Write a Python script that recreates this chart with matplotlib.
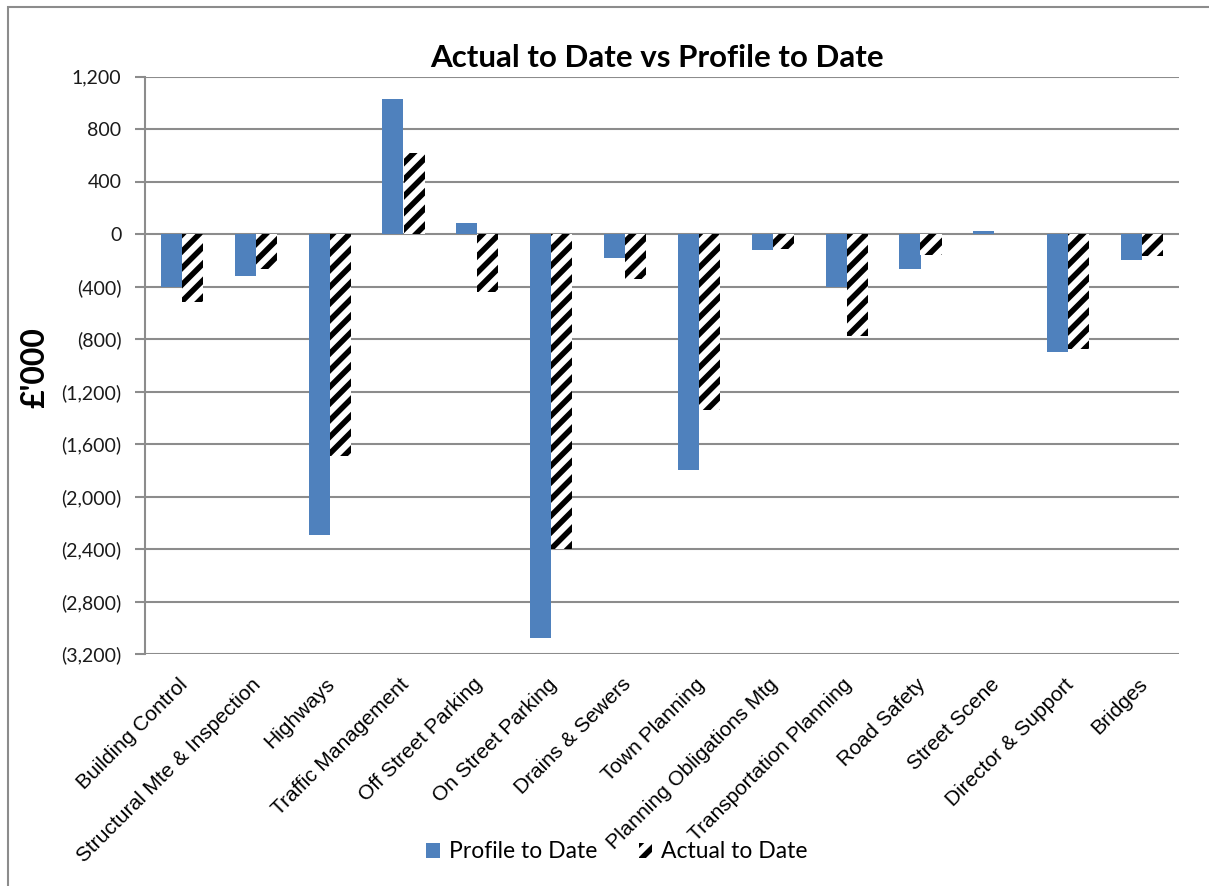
import matplotlib
matplotlib.use("Agg")
import matplotlib.pyplot as plt
import numpy as np
from matplotlib.patches import Rectangle
from matplotlib.ticker import FuncFormatter
from matplotlib.transforms import ScaledTranslation

categories = ["Building Control", "Structural Mte & Inspection", "Highways",
              "Traffic Management", "Off Street Parking", "On Street Parking",
              "Drains & Sewers", "Town Planning", "Planning Obligations Mtg",
              "Transportation Planning", "Road Safety", "Street Scene",
              "Director & Support", "Bridges"]
profile = [-405, -320, -2290, 1030, 85, -3075, -180, -1795, -120, -405, -265, 20, -900, -195]
actual = [-515, -265, -1690, 620, -440, -2400, -340, -1340, -112, -780, -160, 0, -875, -170]
yticks = [1200, 800, 400, 0, -400, -800, -1200, -1600, -2000, -2400, -2800, -3200]

CAL = ["Lato", "DejaVu Sans"]
ARI = ["Liberation Sans", "DejaVu Sans"]
GRID = "#8c8c8c"
BLUE = "#4f81bd"

plt.rcParams['hatch.linewidth'] = 4.0

fig = plt.figure(figsize=(12.09, 8.86), dpi=100)
ax = fig.add_axes([145/1209, 1-654/886, (1179-145)/1209, (654-76.5)/886])

x = np.arange(len(categories))
w = 0.2857
ax.bar(x - w/2, profile, width=w, color=BLUE, label="Profile to Date", zorder=3)
ax.bar(x + w/2, actual, width=w, facecolor="white", edgecolor="black", linewidth=0,
       hatch="//", label="Actual to Date", zorder=3)

ax.set_xlim(-0.5, len(categories) - 0.5)
ax.set_ylim(-3200, 1200)
ax.set_yticks(yticks)

def fmt(v, pos):
    v = int(round(v))
    if v < 0:
        return "({:,})".format(-v)
    return "{:,}".format(v)
ax.yaxis.set_major_formatter(FuncFormatter(fmt))
ax.yaxis.grid(True, color=GRID, linewidth=1.5, zorder=0)
ax.set_axisbelow(True)

for s in ["top", "right", "bottom"]:
    ax.spines[s].set_visible(False)
ax.spines["left"].set_color(GRID)
ax.spines["left"].set_linewidth(1.5)
ax.tick_params(axis="y", color=GRID, width=1.5, length=7, pad=10)
ax.tick_params(axis="x", length=0, pad=4)
for lab in ax.get_yticklabels():
    lab.set_family(CAL)
    lab.set_fontsize(14)
    lab.set_color("#1a1a1a")

ax.set_xticks(x)
ax.set_xticklabels(categories, rotation=45, ha="right", rotation_mode="anchor",
                   family=ARI, fontsize=15)
off = ScaledTranslation(-3/72, -11/72, fig.dpi_scale_trans)
for lab in ax.get_xticklabels():
    lab.set_transform(lab.get_transform() + off)

fig.text(657/1209, 1-67/886, "Actual to Date vs Profile to Date", ha="center", va="baseline",
         family=CAL, fontsize=22.5, fontweight="bold")
fig.text(35/1209, 1-368/886, "£'000", rotation=90, ha="center", va="center",
         family=CAL, fontsize=23, fontweight="bold")

leg = fig.legend(loc="center", bbox_to_anchor=(617/1209, 1-852/886), ncol=2, frameon=False,
                 prop={"family": CAL, "size": 16.5}, handlelength=0.6, handleheight=0.6,
                 columnspacing=1.8, handletextpad=0.4)

fig.patches.append(Rectangle((8/1209, -0.05), 1.1, 1-7/886+0.05, transform=fig.transFigure,
                             fill=False, edgecolor=GRID, linewidth=1.5))

fig.savefig("out.png", dpi=100)
